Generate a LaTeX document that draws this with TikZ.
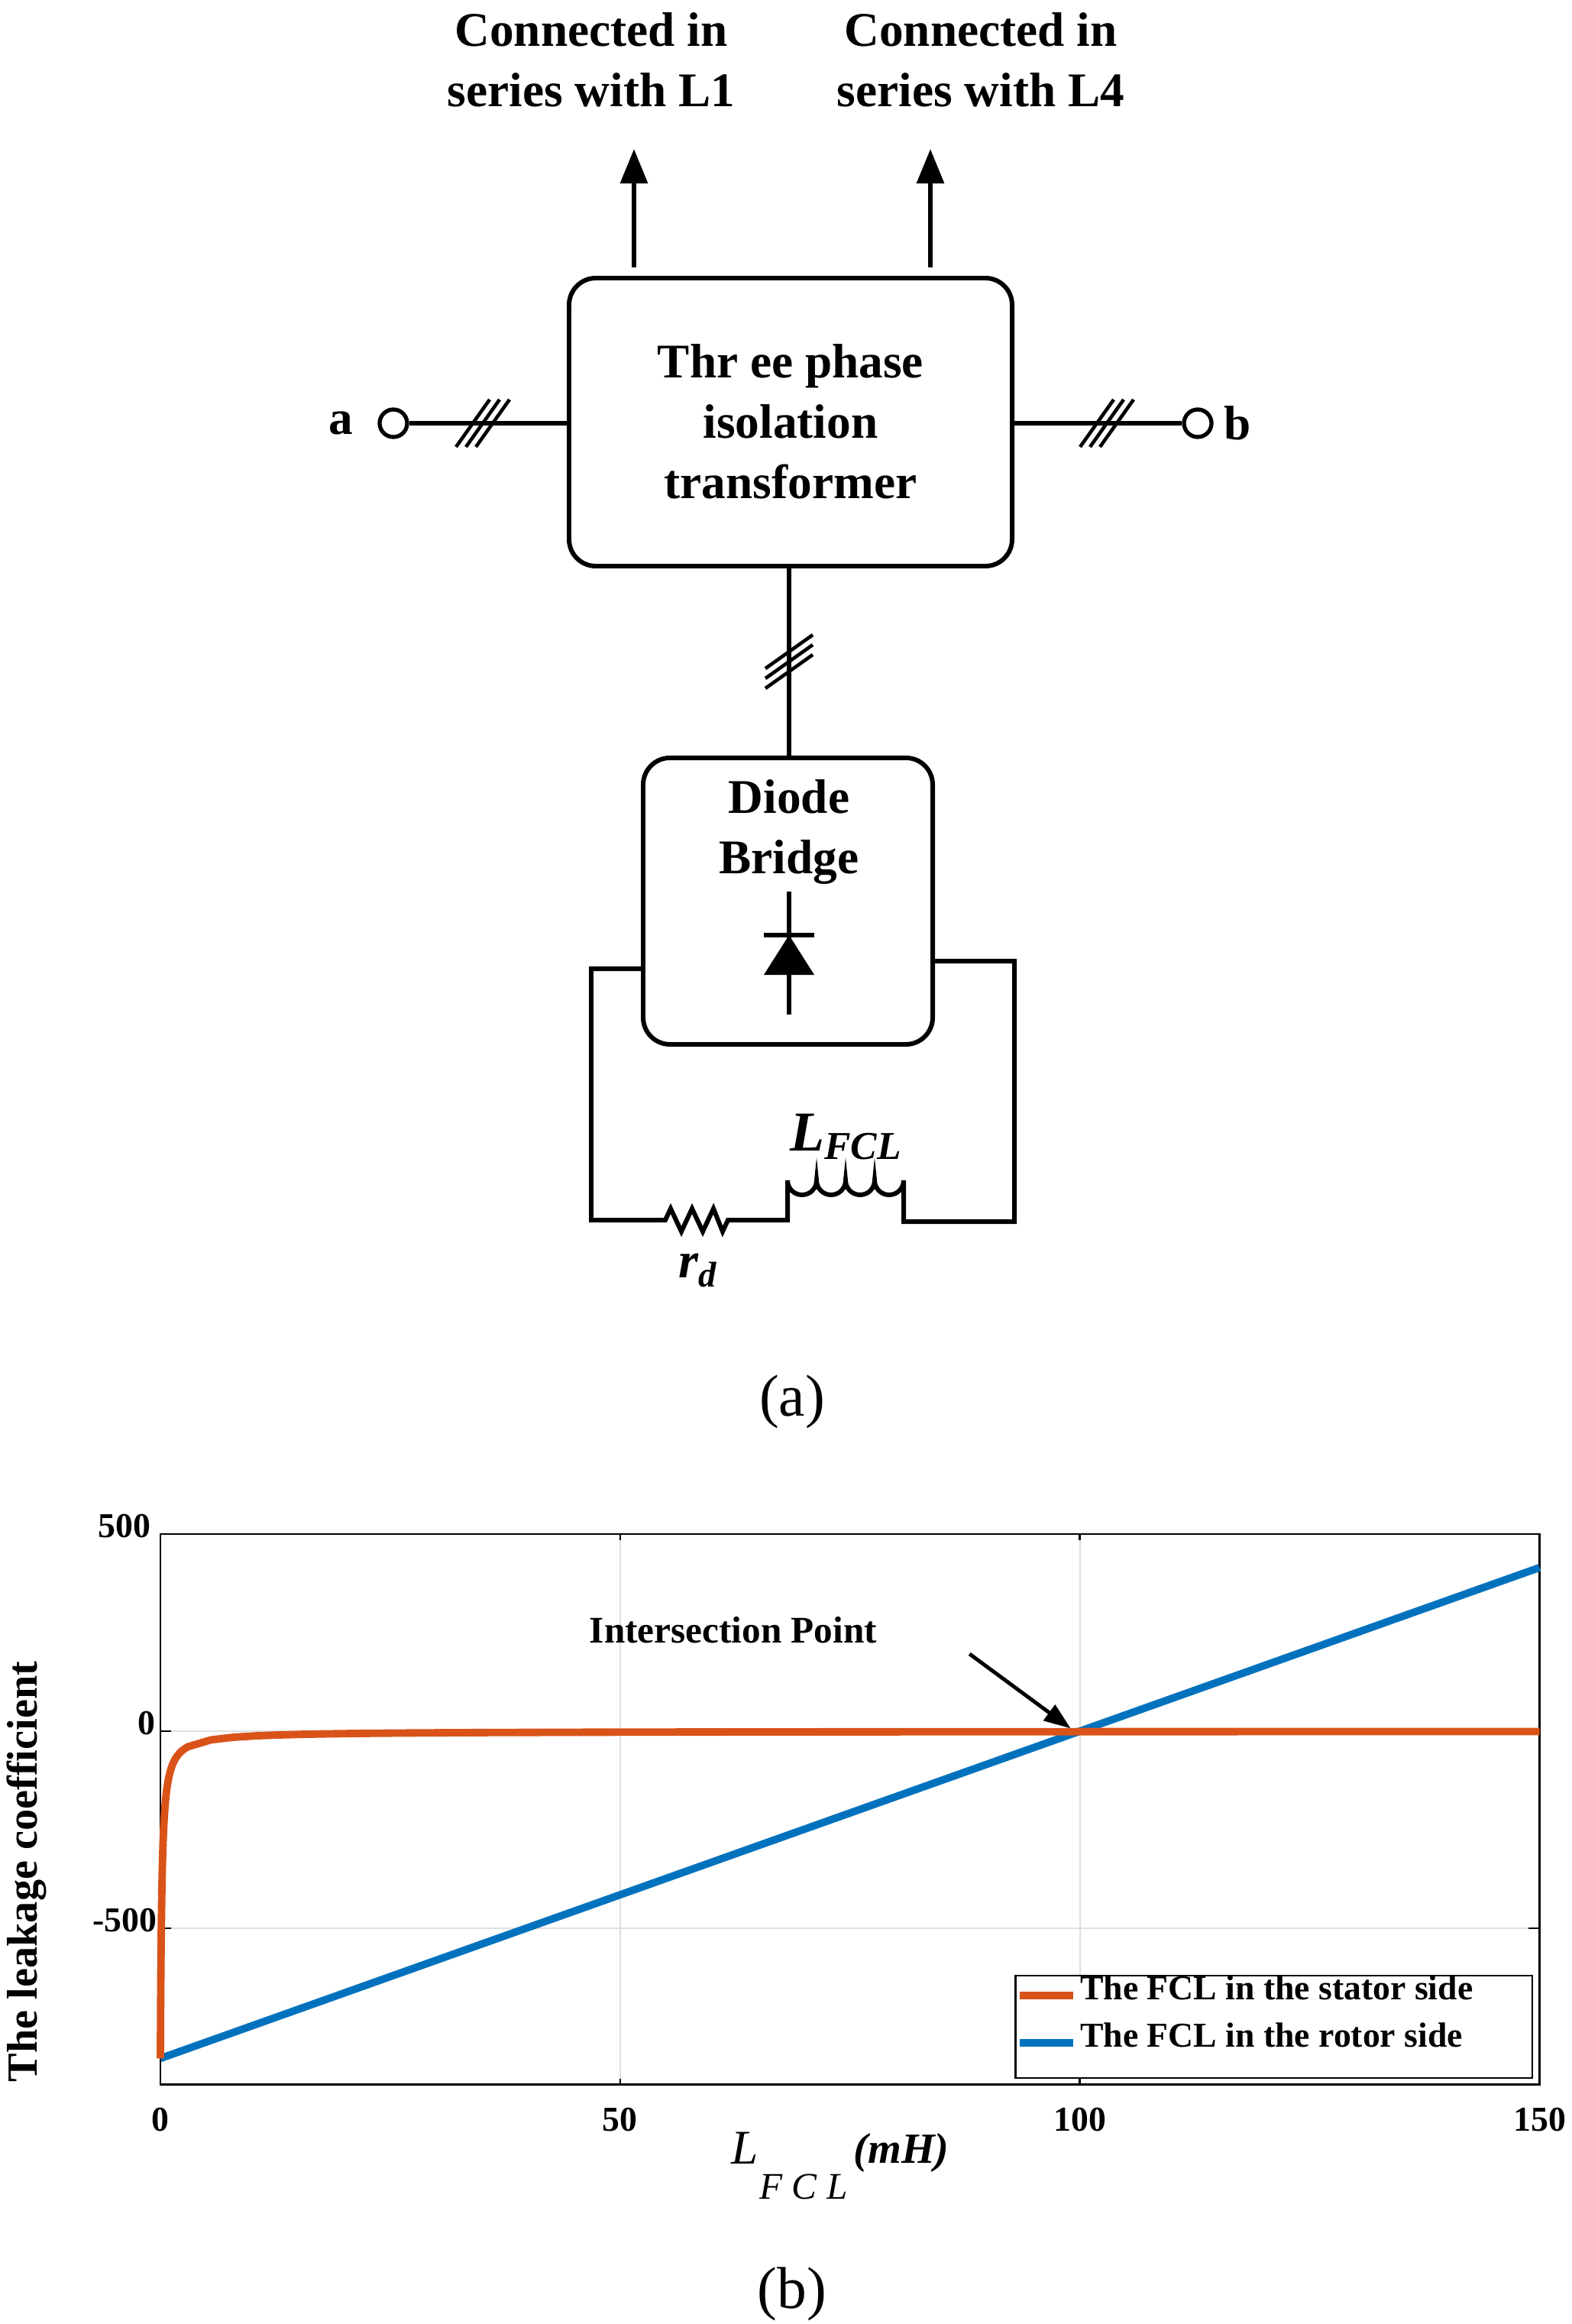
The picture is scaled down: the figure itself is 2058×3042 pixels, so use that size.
\documentclass[tikz,border=0pt]{standalone}
\usepackage{fontspec}
\setmainfont{Liberation Serif}
\usetikzlibrary{arrows.meta}
\definecolor{morange}{RGB}{217,83,25}
\definecolor{mblue}{RGB}{0,114,189}
\begin{document}
\begin{tikzpicture}[x=0.01cm,y=-0.01cm,
  wire/.style={line width=1.7pt},
  box/.style={wire,rounded corners=0.35cm},
  lbl/.style={font=\fontsize{18}{22.5}\selectfont\bfseries,align=center},
  hatch/.style={line width=1.3pt},
  tick/.style={font=\fontsize{13}{16}\selectfont\bfseries},
  subcap/.style={font=\fontsize{22}{26}\selectfont}]
\useasboundingbox (0,0) rectangle (2058,3042);
% transformer
\draw[box] (745,364) rectangle (1325,741);
\node[lbl] (tr) at (1035,552) {Thr ee phase\\isolation\\transformer};
\node[lbl] (c1) at (774,78) {Connected in\\series with L1};
\node[lbl] (c2) at (1284,78) {Connected in\\series with L4};
\coordinate (u1) at (830,350); \coordinate (u1t) at (830,195);
\coordinate (u2) at (1218,350); \coordinate (u2t) at (1218,195);
\draw[wire,-{Triangle[length=0.45cm,width=0.35cm]}] (u1) -- (u1t);
\draw[wire,-{Triangle[length=0.45cm,width=0.35cm]}] (u2) -- (u2t);
% a and b terminals
\node[circle,draw,line width=1.5pt,inner sep=0pt,minimum size=0.36cm] (ta) at (515,554) {};
\node[circle,draw,line width=1.5pt,inner sep=0pt,minimum size=0.36cm] (tb) at (1568,554) {};
\node[lbl,anchor=east] (la) at (475,554) {a};
\node[lbl,anchor=west] (lb) at (1590,554) {b};
\draw[wire] (ta) -- (745,554);
\draw[wire] (1325,554) -- (tb);
\foreach \d in {-13,0,13}{
  \draw[hatch] (632+\d-22,585) -- (632+\d+22,523);
  \draw[hatch] (1449+\d-22,585) -- (1449+\d+22,523);
  \draw[hatch] (1002,866+\d+22) -- (1064,866+\d-22);
}
% diode bridge
\draw[wire] (1033,741) -- (1033,992);
\draw[box] (842,992) rectangle (1221,1367);
\node[lbl] (db) at (1033,1089) {Diode\\Bridge};
\draw[wire] (1033,1167) -- (1033,1328);
\fill (1000,1276) -- (1066,1276) -- (1033,1224) -- cycle;
\draw[wire] (1000,1224) -- (1066,1224);
% loop
\draw[wire] (842,1268) -- (774,1268) -- (774,1597) -- (871,1597)
  -- (878,1582) -- (892,1612) -- (906,1582) -- (920,1612) -- (934,1582) -- (946,1612) -- (953,1597)
  -- (1031,1597) -- (1031,1545)
  arc[start angle=180,end angle=0,radius=19]
  arc[start angle=180,end angle=0,radius=19]
  arc[start angle=180,end angle=0,radius=19]
  arc[start angle=180,end angle=0,radius=19]
  -- (1183,1599) -- (1328,1599) -- (1328,1258) -- (1221,1258);
\node[font=\fontsize{21}{25}\selectfont\bfseries\itshape] (lf) at (1108,1488) {L\textsubscript{FCL}};
\node[font=\fontsize{19}{23}\selectfont\bfseries\itshape] (rd) at (914,1663) {r\textsubscript{d}};
\node[subcap] (ca) at (1037,1835) {(a)};
% plot
\begin{scope}[shift={(210,2266)},x=0.1203cm,y=0.005154cm]
\draw[gray!25,line width=0.6pt] (50,500) -- (50,-896) (100,500) -- (100,-896) (0,0) -- (150,0) (0,-500) -- (150,-500);
\draw[line width=0.7pt] (0,-896) rectangle (150,500);
\foreach \v in {50,100}{\draw[line width=0.7pt] (\v,-896) -- ++(0,15) (\v,500) -- ++(0,-15);}
\foreach \v in {0,-500}{\draw[line width=0.7pt] (0,\v) -- ++(1.2,0) (150,\v) -- ++(-1.2,0);}
\draw[mblue,line width=2.8pt] (0,-830) -- (150,415);
\draw[morange,line width=2.8pt] plot[domain=0:3,samples=120,smooth] (\x,{-830*0.15/(\x+0.15)})
  -- plot[domain=3:150,samples=60] (\x,{-830*0.15/(\x+0.15)});
\node[tick] (y500) at (-3.9,520) {500};
\node[tick] (y0) at (-1.5,20) {0};
\node[tick] (ym500) at (-3.9,-480) {-500};
\foreach \v in {0,50,100,150}{\node[tick] (x\v) at (\v,-985) {\v};}
\node[font=\fontsize{14}{17}\selectfont\bfseries] (ip) at (62.3,256) {Intersection Point};
\coordinate (ar0) at (88,196); \coordinate (ar1) at (99,7);
\draw[line width=1.4pt,-{Triangle[length=0.35cm,width=0.25cm]}] (ar0) -- (ar1);
\draw[line width=0.7pt,fill=white] (93,-620) rectangle (149.2,-880);
\draw[morange,line width=2.8pt] (93.5,-670) -- (99.3,-670);
\draw[mblue,line width=2.8pt] (93.5,-790) -- (99.3,-790);
\node[font=\fontsize{13}{16}\selectfont\bfseries,anchor=west] (l1) at (99,-650) {The FCL in the stator side};
\node[font=\fontsize{13}{16}\selectfont\bfseries,anchor=west] (l2) at (99,-770) {The FCL in the rotor side};
\end{scope}
\node[font=\fontsize{16}{20}\selectfont\bfseries,rotate=90] (yl) at (35,2450) {The leakage coefficient};
\node[font=\fontsize{18}{22}\selectfont\itshape] (xl) at (975,2812) {L};
\node[font=\fontsize{14}{17}\selectfont\itshape] (xs) at (1052,2862) {F C L};
\node[font=\fontsize{16}{20}\selectfont\bfseries\itshape] (xu) at (1180,2818) {(mH)};
\node[subcap] (cb) at (1037,3003) {(b)};
\end{tikzpicture}
\end{document}
